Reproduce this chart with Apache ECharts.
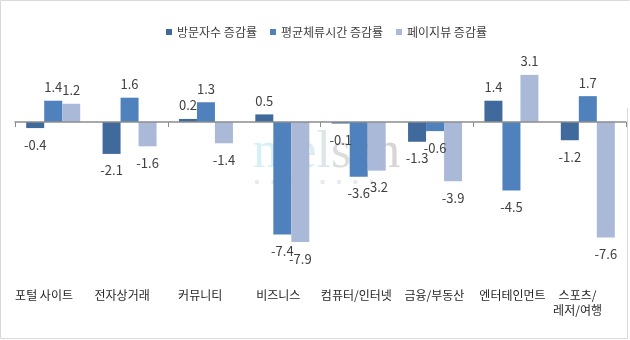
<!DOCTYPE html>
<html>
<head>
<meta charset="utf-8">
<style>
  html, body { margin: 0; padding: 0; background: #fff; }
  #chart { width: 630px; height: 340px; }
</style>
<script src="https://cdn.jsdelivr.net/npm/echarts@6/dist/echarts.min.js"></script>
</head>
<body>
<div id="chart"></div>
<script>
// Category names and growth rates (%) per site category
const categories = ['포털 사이트', '전자상거래', '커뮤니티', '비즈니스', '컴퓨터/인터넷', '금융/부동산', '엔터테인먼트', '스포츠/레저/여행'];
const seriesNames = ['방문자수 증감률', '평균체류시간 증감률', '페이지뷰 증감률'];
const visitors = [-0.4, -2.1, 0.2, 0.5, -0.1, -1.3, 1.4, -1.2];
const stayTime = [1.4, 1.6, 1.3, -7.4, -3.6, -0.6, -4.5, 1.7];
const pageViews = [1.2, -1.6, -1.4, -7.9, -3.2, -3.9, 3.1, -7.6];

const colors = ['#40699C', '#4F81BD', '#AAB9D7'];
const FONT = '"Noto Sans CJK KR", "Noto Sans", sans-serif';

function makeData(values) {
  return values.map(v => ({
    value: v,
    label: {
      position: v >= 0 ? 'top' : 'bottom',
      distance: v >= 0 ? 7 : 10
    }
  }));
}

function barSeries(name, values, color) {
  return {
    name: name,
    type: 'bar',
    xAxisIndex: 0,
    yAxisIndex: 0,
    barWidth: 18,
    barGap: '0%',
    z: 5,
    itemStyle: { color: color },
    label: {
      show: true,
      fontFamily: FONT,
      fontSize: 13,
      color: '#404040',
      formatter: p => p.value.toFixed(1)
    },
    data: makeData(values)
  };
}

// Faint logo mark with a row of dots under it
const logoParts = [
  { text: 'n', color: '#D6F0F8' },
  { text: 'i', color: '#D9EEF5' },
  { text: 'e', color: '#DCECF0' },
  { text: 'l', color: '#DDE6E9' },
  { text: 's', color: '#DADDDE' },
  { text: 'e', color: '#D8D8D8' },
  { text: 'n', color: '#D6D6D6' }
];
const logoRich = {};
logoParts.forEach((p, i) => {
  logoRich['c' + i] = {
    fill: p.color,
    fontSize: 52,
    fontFamily: '"Liberation Serif", "DejaVu Serif", serif'
  };
});
const logoText = logoParts.map((p, i) => '{c' + i + '|' + p.text + '}').join('');

const decorations = [{
  type: 'text',
  x: 253,
  y: 127,
  z: -10,
  silent: true,
  style: {
    text: logoText,
    rich: logoRich,
    fontSize: 52,
    fontFamily: '"Liberation Serif", "DejaVu Serif", serif',
    fill: '#D8D8D8'
  }
}];
for (let i = 0; i < 8; i++) {
  decorations.push({
    type: 'circle',
    z: -10,
    silent: true,
    shape: { cx: 257 + 16.4 * i, cy: 182, r: 2.2 },
    style: { fill: '#E9E9E9' }
  });
}
// thin frame around the chart
decorations.push({
  type: 'polyline',
  z: -10,
  silent: true,
  shape: { points: [[627.5, 108], [627.5, 338.5], [0.5, 338.5], [0.5, 0.5], [629.5, 0.5]] },
  style: { stroke: '#D9D9D9', lineWidth: 1, fill: null }
});

const chart = echarts.init(document.getElementById('chart'), null, { renderer: 'canvas' });
chart.setOption({
  animation: false,
  backgroundColor: '#ffffff',
  color: colors,
  textStyle: { fontFamily: FONT },
  legend: {
    data: seriesNames,
    left: 161,
    top: 21,
    icon: 'rect',
    itemWidth: 6,
    itemHeight: 6,
    itemGap: 13,
    textStyle: { fontFamily: FONT, fontSize: 12, color: '#404040' }
  },
  graphic: { elements: decorations },
  grid: [
    { left: 15, right: 4, top: 61.2, bottom: 96.4 },
    { left: 5, right: -15, top: 61.2, bottom: 96.4 }
  ],
  xAxis: [
    {
      type: 'category',
      gridIndex: 0,
      data: categories,
      z: 6,
      axisLine: { onZero: true, lineStyle: { color: '#8C8C8C', width: 1.5 } },
      axisTick: { show: true, length: 5, lineStyle: { color: '#8C8C8C' } },
      axisLabel: { show: false },
      splitLine: { show: false }
    },
    {
      type: 'category',
      gridIndex: 1,
      position: 'bottom',
      data: categories.map((c, i) => i === categories.length - 1
        ? { value: c, textStyle: { padding: [0, 26, 0, 0] } }
        : c),
      axisLine: { show: false, onZero: false },
      axisTick: { show: false },
      axisLabel: {
        interval: 0,
        margin: 44,
        fontFamily: FONT,
        fontSize: 12,
        lineHeight: 15,
        color: '#262626',
        formatter: v => v.replace('스포츠/', '스포츠/\n')
      }
    }
  ],
  yAxis: [
    { type: 'value', gridIndex: 0, min: -8, max: 4, show: false, splitLine: { show: false } },
    { type: 'value', gridIndex: 1, min: -8, max: 4, show: false, splitLine: { show: false } }
  ],
  series: [
    barSeries(seriesNames[0], visitors, colors[0]),
    barSeries(seriesNames[1], stayTime, colors[1]),
    barSeries(seriesNames[2], pageViews, colors[2])
  ]
});
</script>
</body>
</html>
